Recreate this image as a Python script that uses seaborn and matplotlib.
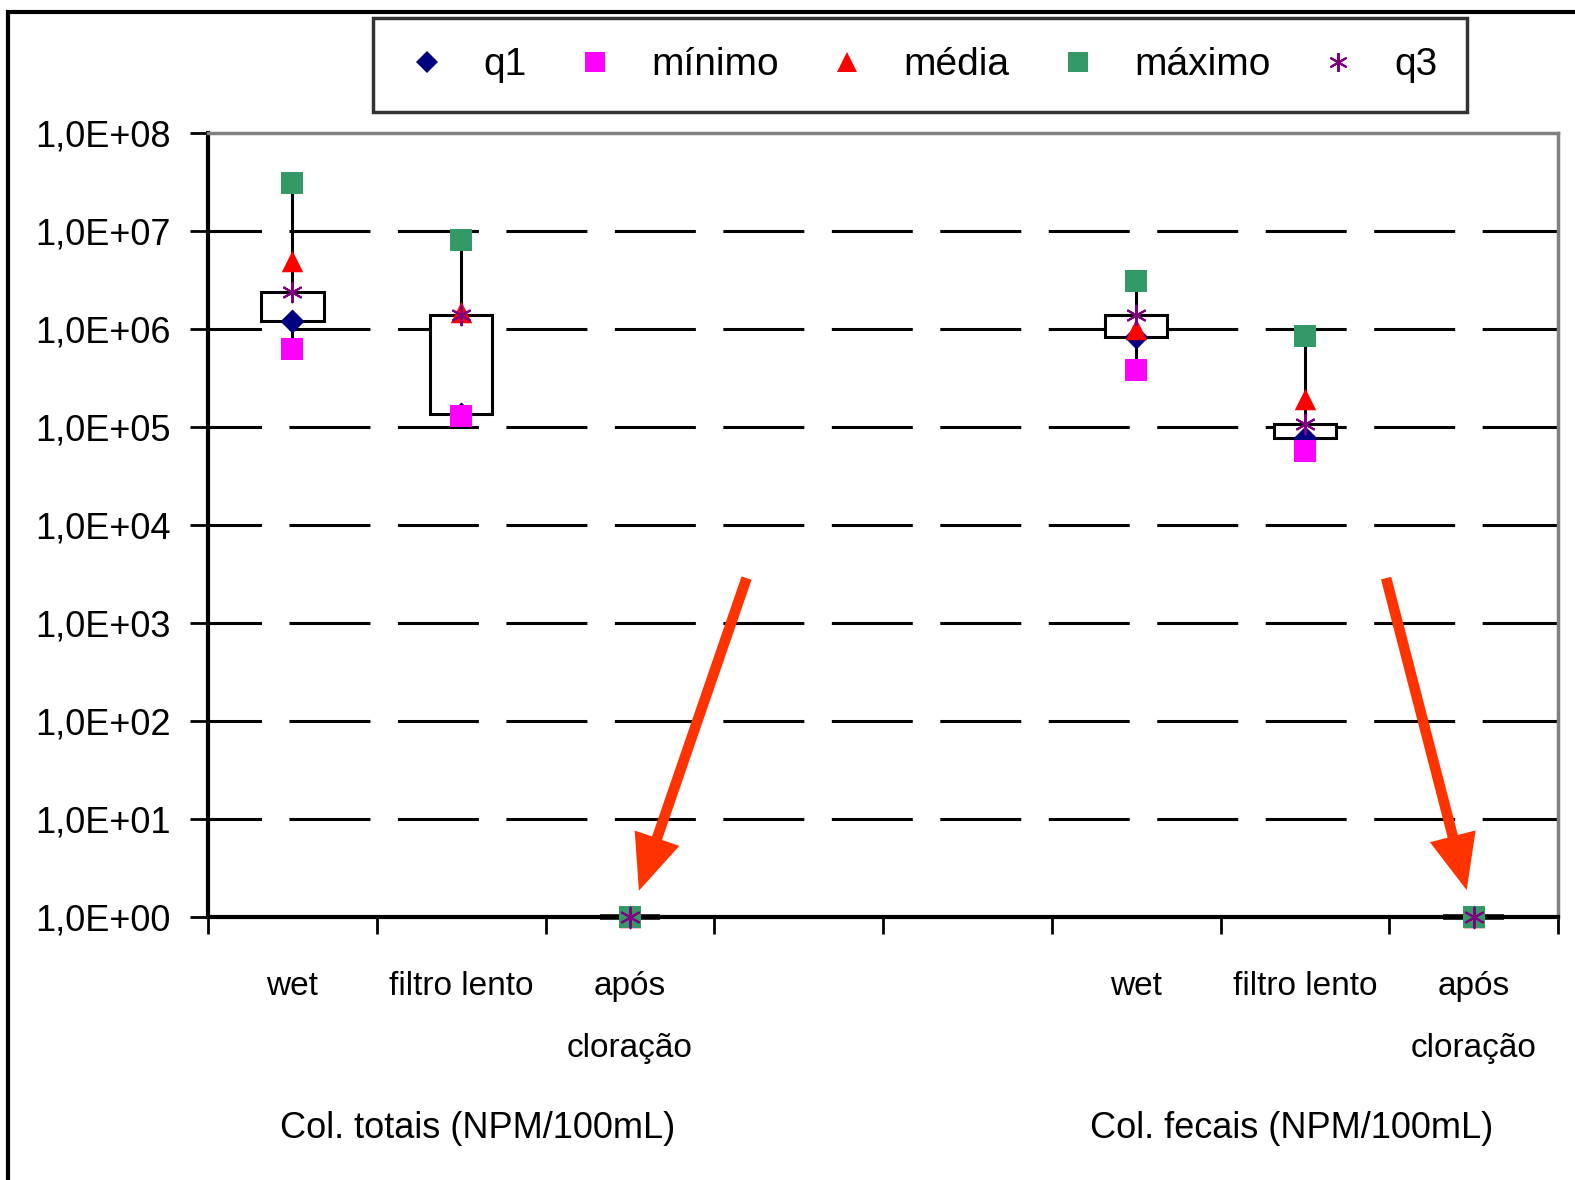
import numpy as np
import pandas as pd
import seaborn as sns
import matplotlib.pyplot as plt
from matplotlib.patches import Rectangle
from matplotlib.lines import Line2D
import matplotlib.transforms as mtransforms

# dados (NPM/100mL)
n_slots = 8
slots = [0, 1, 2, 5, 6, 7]
labels = ["wet", "filtro lento", "após\ncloração", "wet", "filtro lento", "após\ncloração"]
groups = ["Col. totais (NPM/100mL)", "Col. fecais (NPM/100mL)"]
group_slots = [[0, 1, 2], [5, 6, 7]]

q1 = [1.2e6, 1.35e5, 1.0, 8.2e5, 7.8e4, 1.0]
minimo = [6.3e5, 1.3e5, 1.0, 3.8e5, 5.7e4, 1.0]
media = [5.0e6, 1.5e6, 1.0, 1.0e6, 1.95e5, 1.0]
maximo = [3.1e7, 8.0e6, 1.0, 3.1e6, 8.4e5, 1.0]
q3 = [2.4e6, 1.4e6, 1.0, 1.4e6, 1.08e5, 1.0]

yticks = [1e0, 1e1, 1e2, 1e3, 1e4, 1e5, 1e6, 1e7, 1e8]
ytick_labels = ["1,0E+00", "1,0E+01", "1,0E+02", "1,0E+03", "1,0E+04",
                "1,0E+05", "1,0E+06", "1,0E+07", "1,0E+08"]

df = pd.DataFrame({"pos": np.array(slots) + 0.5, "q1": q1, "mínimo": minimo,
                   "média": media, "máximo": maximo, "q3": q3})

sns.set_style("white")
plt.rcParams['font.family'] = ['Liberation Sans', 'DejaVu Sans']
plt.rcParams.update({"text.color": "black", "xtick.color": "black",
                     "ytick.color": "black", "axes.labelcolor": "black"})

fig = plt.figure(figsize=(15.75, 11.8), dpi=100)
ax = fig.add_axes([208 / 1575, 1 - 917 / 1180, 1350 / 1575, 784 / 1180])
ax.set_yscale("log")
ax.set_ylim(1, 1e8)
ax.set_xlim(0, n_slots)

# linhas de grade tracejadas
for v in yticks[1:-1]:
    ax.axhline(v, color="black", lw=2.2, ls=(9, (26.5, 9)), zorder=1)

# bigodes e caixas
ax.vlines(df["pos"], df["mínimo"], df["máximo"], color="black", lw=2.2, zorder=2)
ax.bar(df["pos"], df["q3"] - df["q1"], bottom=df["q1"], width=0.37,
       color="white", edgecolor="black", linewidth=2.2, zorder=3)
# caixas de altura zero (após cloração)
flat = df[df["q3"] == df["q1"]]
ax.hlines(flat["q1"], flat["pos"] - 0.18, flat["pos"] + 0.18, color="black", lw=4,
          zorder=3, clip_on=False)

styles = [("q1", "D", "#000080", 150), ("mínimo", "s", "#FF00FF", 240),
          ("média", "^", "#FF0000", 240), ("máximo", "s", "#339966", 240),
          ("q3", (6, 2, 0), "#800080", 200)]
for col, mk, c, s in styles:
    sns.scatterplot(data=df, x="pos", y=col, marker=mk, color=c, s=s,
                    edgecolor=c, linewidth=1.5 if mk == (6, 2, 0) else 0,
                    ax=ax, zorder=4, legend=False, clip_on=False)

# eixos
ax.set_xlabel("")
ax.set_ylabel("")
ax.set_yticks(yticks)
ax.set_yticklabels(ytick_labels)
ax.yaxis.set_minor_locator(plt.NullLocator())
ax.tick_params(axis="y", which="major", length=13, width=2, direction="out",
               labelsize=26, pad=14, left=True)
ax.set_xticks(np.arange(n_slots + 1))
ax.set_xticklabels([])
ax.set_xticks(np.array(slots) + 0.5, minor=True)
ax.set_xticklabels(labels, minor=True, fontsize=24, linespacing=2.3, va="top")
ax.tick_params(axis="x", which="minor", length=0, pad=39)
ax.tick_params(axis="x", which="major", length=12, width=2, direction="out", bottom=True)

for side in ["left", "bottom"]:
    ax.spines[side].set_color("black")
    ax.spines[side].set_linewidth(3)
for side in ["top", "right"]:
    ax.spines[side].set_color("#808080")
    ax.spines[side].set_linewidth(2.5)

# rótulos dos grupos
trans = mtransforms.blended_transform_factory(ax.transData, ax.transAxes)
for g, gs, dx in zip(groups, group_slots, [0.1, -0.08]):
    ax.text(np.mean(gs) + 0.5 + dx, -0.27, g, transform=trans, ha="center", va="center",
            fontsize=26)

# setas
for p, v in zip(df["pos"], df["máximo"]):
    if v <= 1.0:
        dx = 84 if p < 4 else -63
        ax.annotate("", xy=(p, v), xytext=(dx, 244), textcoords="offset points",
                    arrowprops=dict(arrowstyle="simple,head_length=2.0,head_width=1.7,tail_width=0.38",
                                    color="#FF3300", lw=0, shrinkA=0, shrinkB=20,
                                    mutation_scale=20), zorder=5)

# legenda
handles = [Line2D([], [], ls="none", marker=mk, color=c, markeredgecolor=c,
                  markeredgewidth=1.5 if mk == (6, 2, 0) else 0,
                  markersize=np.sqrt(s) * 0.95, label=col)
           for col, mk, c, s in styles]
leg = fig.legend(handles=handles, loc="upper center", bbox_to_anchor=(920 / 1575, 1 - 18 / 1180),
                 ncol=5, fontsize=28, frameon=True, fancybox=False, handletextpad=0.8,
                 columnspacing=1.1, borderpad=0.75, handlelength=1.3, borderaxespad=0)
leg.get_frame().set_edgecolor("black")
leg.get_frame().set_linewidth(2.5)

# moldura externa
fig.patches.append(Rectangle((8 / 1575, -0.05), 1.2, 1.05 - 12 / 1180, transform=fig.transFigure,
                             fill=False, edgecolor="black", lw=3))

fig.savefig("out.png", dpi=100)
